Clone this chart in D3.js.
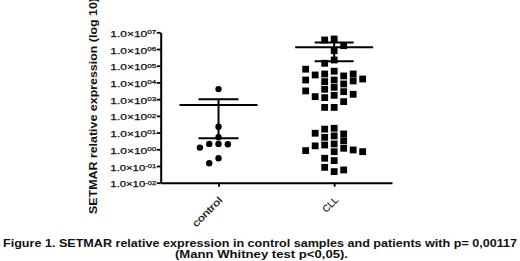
<!DOCTYPE html>
<html>
<head>
<meta charset="utf-8">
<script src="https://cdn.jsdelivr.net/npm/d3@7"></script>
<style>
  body { margin: 0; background: #fff; }
  svg { display: block; font-family: "Liberation Sans", Arial, sans-serif; }
</style>
</head>
<body>
<svg id="chart" width="520" height="261"></svg>
<script>
// groups on the x axis
const groups = ["control", "CLL"];

// SETMAR relative expression (log axis)
const controlValues = [3980, 22.4, 5.2, 2.1, 2.1, 2.0, 1.26, 0.29, 0.145];
const cllValues = [
  // top
  3.98e6, 3.47e6, 1.58e6, 7.9e5, 2.2e5, 1.4e5,
  // middle block
  4.7e4, 3.2e4, 2.45e4, 2.8e4, 3.2e4, 6.2e4,
  1.4e4, 1.12e4, 8.1e3, 5.1e3, 1.4e4, 1.23e4, 1.6e4,
  3.9e3, 2.8e3, 1.7e3, 1.23e3, 1.41e3, 7.1e2, 1.95e3, 3.1e3,
  3.2e2, 3.2e2,
  // bottom block
  18, 16, 8.3, 6.3, 9.1, 5.2, 3.2, 2.1,
  1.8, 1.6, 1.15, 0.91, 0.83, 0.72, 0.29, 0.21,
  0.083, 0.046, 0.058, 0.72
];

// mean and error bar ends for each group
const means = [446, 1.29e6];
const errHigh = [1000, 2.45e6];
const errLow = [4.6, 1.86e5];

const yTicks = [1e-2, 1e-1, 1e0, 1e1, 1e2, 1e3, 1e4, 1e5, 1e6, 1e7];

const yTitle = "SETMAR relative expression (log 10)";
const caption1 = "Figure 1. SETMAR relative expression in control samples and patients with p= 0,00117";
const caption2 = "(Mann Whitney test p<0,05).";

const svg = d3.select("#chart");

const x0 = 160.7, x1 = 392, yTop = 32.3, yBot = 182.7;

const xScale = d3.scalePoint().domain(groups).range([x0, x1]).padding(0.5);
const yScale = d3.scaleLog().domain([1e-2, 1e7]).range([yBot, yTop]);

// y axis
const yAxis = d3.axisLeft(yScale).tickValues(yTicks).tickSize(4).tickSizeOuter(0);
const gy = svg.append("g").attr("transform", `translate(${x0},0)`).call(yAxis);
gy.select(".domain").attr("stroke", "#000").attr("stroke-width", 2);
gy.selectAll(".tick line").attr("stroke", "#000").attr("stroke-width", 1.8);
gy.selectAll(".tick text").each(function (d) {
  const e = Math.round(Math.log10(d));
  const ex = (e < 0 ? "-" : "") + String(Math.abs(e)).padStart(2, "0");
  const t = d3.select(this).text(null)
    .attr("x", -4.5).attr("dy", "0.45em")
    .attr("fill", "#111").attr("stroke", "#111").attr("stroke-width", 0.25)
    .style("font-size", "9px")
    .attr("textLength", 46).attr("lengthAdjust", "spacingAndGlyphs");
  t.append("tspan").text("1.0\u00d710");
  t.append("tspan").attr("dy", "-0.45em").style("font-size", "6px").text(ex);
});

// x axis
const xAxis = d3.axisBottom(xScale).tickSize(4).tickSizeOuter(0);
const gx = svg.append("g").attr("transform", `translate(0,${yBot})`).call(xAxis);
gx.select(".domain").attr("stroke", "#000").attr("stroke-width", 2);
gx.selectAll(".tick line").attr("stroke", "#000").attr("stroke-width", 1.8);
gx.selectAll(".tick text").remove();
gx.selectAll(".tick").append("text")
  .attr("transform", "translate(4,18) rotate(-45)")
  .attr("text-anchor", "end")
  .attr("fill", "#111").attr("stroke", "#111").attr("stroke-width", 0.2)
  .style("font-size", "9.5px")
  .attr("textLength", d => d === "control" ? 38 : null)
  .attr("lengthAdjust", "spacingAndGlyphs")
  .text(d => d);

// y title
svg.append("text")
  .attr("transform", "translate(96.5,214) rotate(-90)")
  .attr("text-anchor", "start")
  .style("font-size", "11px").style("font-weight", "bold")
  .attr("fill", "#111")
  .attr("textLength", 216).attr("lengthAdjust", "spacingAndGlyphs")
  .text(yTitle);

// simple dodge so points sharing a row spread sideways
function dodge(values, slot, size) {
  const placed = [];
  const order = [0, -1, 1, -2, 2, -3, 3, -4, 4];
  return values.map(v => {
    const y = yScale(v);
    let k = 0;
    for (const o of order) {
      const clash = placed.some(p => Math.abs(p.o - o) < 1 && Math.abs(p.y - y) < size);
      if (!clash) { k = o; break; }
    }
    placed.push({ o: k, y });
    return { v, y, dx: k * slot };
  });
}

const ctrlPts = dodge(controlValues, 9.3, 6.4);
const cllPts = dodge(cllValues, 9.5, 6.8);

svg.append("g").selectAll("circle").data(ctrlPts).join("circle")
  .attr("cx", d => xScale("control") + d.dx)
  .attr("cy", d => d.y)
  .attr("r", 3.2)
  .attr("fill", "#000");

svg.append("g").selectAll("rect").data(cllPts).join("rect")
  .attr("x", d => xScale("CLL") + d.dx - 3.4)
  .attr("y", d => d.y - 3.4)
  .attr("width", 6.8).attr("height", 6.8)
  .attr("fill", "#000");

// mean and error bars
const halfMean = [39, 39], halfCap = [20, 19.5];
groups.forEach((g, i) => {
  const cx = xScale(g);
  const gg = svg.append("g").attr("stroke", "#000").attr("stroke-width", 2);
  gg.append("line").attr("x1", cx - halfMean[i]).attr("x2", cx + halfMean[i])
    .attr("y1", yScale(means[i])).attr("y2", yScale(means[i]));
  gg.append("line").attr("x1", cx).attr("x2", cx)
    .attr("y1", yScale(errHigh[i])).attr("y2", yScale(errLow[i]));
  [errHigh[i], errLow[i]].forEach(v => {
    gg.append("line").attr("x1", cx - halfCap[i]).attr("x2", cx + halfCap[i])
      .attr("y1", yScale(v)).attr("y2", yScale(v));
  });
});

// caption
svg.append("text")
  .attr("x", 3).attr("y", 246.5)
  .style("font-size", "10.6px").style("font-weight", "bold")
  .attr("fill", "#111")
  .attr("textLength", 514).attr("lengthAdjust", "spacingAndGlyphs")
  .text(caption1);
svg.append("text")
  .attr("x", 261.5).attr("y", 257.5)
  .attr("text-anchor", "middle")
  .style("font-size", "10.6px").style("font-weight", "bold")
  .attr("fill", "#111")
  .attr("textLength", 173).attr("lengthAdjust", "spacingAndGlyphs")
  .text(caption2);
</script>
</body>
</html>
